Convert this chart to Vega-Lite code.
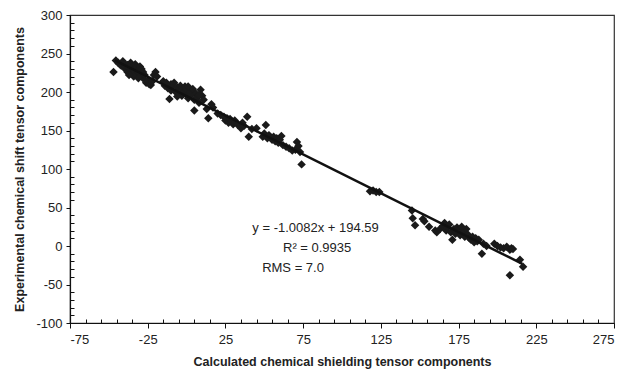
{
  "$schema": "https://vega.github.io/schema/vega-lite/v6.json",
  "autosize": "none",
  "padding": {"left": 70, "top": 15, "right": 10, "bottom": 49},
  "width": 544,
  "height": 308,
  "background": "white",
  "config": {
    "view": {"stroke": "#333", "strokeWidth": 1.2},
    "axis": {
      "labelFont": "Liberation Sans",
      "labelFontSize": 13,
      "labelColor": "#222",
      "titleFont": "Liberation Sans",
      "titleFontSize": 12.5,
      "titleFontWeight": "bold",
      "titleColor": "#222",
      "domainColor": "#111",
      "domainWidth": 1.2,
      "tickColor": "#111",
      "grid": false
    }
  },
  "datasets": {
    "pts": [
      {"calc": -47, "exp": 226}, {"calc": -45.5, "exp": 241}, {"calc": -44, "exp": 238}, {"calc": -43, "exp": 236},
      {"calc": -42, "exp": 234}, {"calc": -41, "exp": 240}, {"calc": -40, "exp": 237}, {"calc": -40, "exp": 232},
      {"calc": -39, "exp": 229}, {"calc": -38, "exp": 235}, {"calc": -38, "exp": 226}, {"calc": -37, "exp": 231},
      {"calc": -36, "exp": 238}, {"calc": -36, "exp": 228}, {"calc": -35, "exp": 233}, {"calc": -35, "exp": 224},
      {"calc": -34, "exp": 230}, {"calc": -33, "exp": 236}, {"calc": -33, "exp": 226}, {"calc": -32, "exp": 232},
      {"calc": -32, "exp": 222}, {"calc": -31, "exp": 228}, {"calc": -30, "exp": 233}, {"calc": -30, "exp": 224},
      {"calc": -29, "exp": 230}, {"calc": -28, "exp": 226}, {"calc": -28, "exp": 218}, {"calc": -27, "exp": 222},
      {"calc": -26, "exp": 212}, {"calc": -25, "exp": 215}, {"calc": -24, "exp": 210}, {"calc": -23, "exp": 209},
      {"calc": -22, "exp": 214}, {"calc": -21, "exp": 222}, {"calc": -20, "exp": 226}, {"calc": -19, "exp": 220},
      {"calc": -34, "exp": 220}, {"calc": -31, "exp": 218}, {"calc": -37, "exp": 222},
      {"calc": -15, "exp": 214}, {"calc": -14, "exp": 208}, {"calc": -13, "exp": 212}, {"calc": -12, "exp": 205},
      {"calc": -11, "exp": 191}, {"calc": -10, "exp": 210}, {"calc": -10, "exp": 202}, {"calc": -9, "exp": 207},
      {"calc": -8, "exp": 212}, {"calc": -7, "exp": 200}, {"calc": -6, "exp": 206}, {"calc": -5, "exp": 198},
      {"calc": -4, "exp": 208}, {"calc": -3, "exp": 203}, {"calc": -3, "exp": 195}, {"calc": -2, "exp": 200},
      {"calc": -1, "exp": 207}, {"calc": 0, "exp": 197}, {"calc": 0, "exp": 203}, {"calc": 1, "exp": 192},
      {"calc": 2, "exp": 200}, {"calc": 3, "exp": 196}, {"calc": 4, "exp": 204}, {"calc": 5, "exp": 176},
      {"calc": 5, "exp": 190}, {"calc": 6, "exp": 198}, {"calc": 7, "exp": 193}, {"calc": 8, "exp": 186},
      {"calc": 9, "exp": 203}, {"calc": 10, "exp": 195}, {"calc": 11, "exp": 190}, {"calc": 13, "exp": 178},
      {"calc": 14, "exp": 166}, {"calc": 16, "exp": 184}, {"calc": 17, "exp": 180},
      {"calc": -6, "exp": 194}, {"calc": 1, "exp": 207}, {"calc": 8, "exp": 196},
      {"calc": 20, "exp": 172}, {"calc": 22, "exp": 170}, {"calc": 24, "exp": 168}, {"calc": 25, "exp": 163},
      {"calc": 26, "exp": 166}, {"calc": 27, "exp": 160}, {"calc": 28, "exp": 165}, {"calc": 29, "exp": 162},
      {"calc": 30, "exp": 158}, {"calc": 31, "exp": 163}, {"calc": 33, "exp": 157}, {"calc": 35, "exp": 153},
      {"calc": 36, "exp": 160}, {"calc": 37, "exp": 156}, {"calc": 39, "exp": 168}, {"calc": 40, "exp": 142},
      {"calc": 42, "exp": 152}, {"calc": 45, "exp": 153},
      {"calc": 49, "exp": 142}, {"calc": 50, "exp": 146}, {"calc": 51, "exp": 157}, {"calc": 52, "exp": 140},
      {"calc": 53, "exp": 144}, {"calc": 55, "exp": 138}, {"calc": 56, "exp": 142}, {"calc": 57, "exp": 136},
      {"calc": 58, "exp": 140}, {"calc": 59, "exp": 134}, {"calc": 60, "exp": 138}, {"calc": 61, "exp": 143},
      {"calc": 62, "exp": 131}, {"calc": 64, "exp": 129}, {"calc": 66, "exp": 127}, {"calc": 68, "exp": 124},
      {"calc": 70, "exp": 125}, {"calc": 71, "exp": 135}, {"calc": 72, "exp": 130}, {"calc": 73, "exp": 122},
      {"calc": 74, "exp": 106},
      {"calc": 118, "exp": 71}, {"calc": 120, "exp": 72}, {"calc": 122, "exp": 70}, {"calc": 124, "exp": 70},
      {"calc": 145, "exp": 46}, {"calc": 145.5, "exp": 36}, {"calc": 147, "exp": 27}, {"calc": 152, "exp": 35},
      {"calc": 153, "exp": 32}, {"calc": 156, "exp": 25}, {"calc": 160, "exp": 20}, {"calc": 161, "exp": 18},
      {"calc": 163, "exp": 22}, {"calc": 165, "exp": 26}, {"calc": 166, "exp": 30}, {"calc": 167, "exp": 20},
      {"calc": 168, "exp": 24}, {"calc": 169, "exp": 28}, {"calc": 170, "exp": 18}, {"calc": 171, "exp": 8},
      {"calc": 172, "exp": 22}, {"calc": 173, "exp": 16}, {"calc": 174, "exp": 24}, {"calc": 175, "exp": 20},
      {"calc": 176, "exp": 14}, {"calc": 177, "exp": 25}, {"calc": 178, "exp": 18}, {"calc": 179, "exp": 12},
      {"calc": 180, "exp": 22}, {"calc": 181, "exp": 15}, {"calc": 182, "exp": 10}, {"calc": 183, "exp": 8},
      {"calc": 184, "exp": 12}, {"calc": 185, "exp": 5}, {"calc": 186, "exp": 10}, {"calc": 187, "exp": 6},
      {"calc": 188, "exp": 8}, {"calc": 190, "exp": -10}, {"calc": 191, "exp": 3}, {"calc": 193, "exp": 0},
      {"calc": 198, "exp": 3}, {"calc": 200, "exp": 0}, {"calc": 202, "exp": -2}, {"calc": 204, "exp": -3},
      {"calc": 206, "exp": -1}, {"calc": 208, "exp": -5}, {"calc": 209, "exp": -3}, {"calc": 210, "exp": -4},
      {"calc": 208, "exp": -38}, {"calc": 214.5, "exp": -18}, {"calc": 216.5, "exp": -27}
    ],
    "fit": [
      {"calc": -46, "exp": 240.97},
      {"calc": 216, "exp": -23.18}
    ],
    "notes": [
      {"calc": 83, "exp": 23.5, "txt": "y = -1.0082x + 194.59"},
      {"calc": 84, "exp": -2.5, "txt": "R² = 0.9935"},
      {"calc": 68.5, "exp": -28, "txt": "RMS = 7.0"}
    ]
  },
  "resolve": {"axis": {"x": "independent", "y": "independent"}},
  "layer": [
    {
      "data": {"name": "pts"},
      "mark": {"type": "point", "opacity": 0},
      "encoding": {
        "x": {"field": "calc", "type": "quantitative",
              "scale": {"domain": [-75, 275], "nice": false, "zero": false},
              "axis": {"orient": "bottom", "values": [-65,-55,-45,-35,-15,-5,5,15,35,45,55,65,85,95,105,115,135,145,155,165,185,195,205,215,235,245,255,265],
                       "labels": false, "domain": false, "tickSize": -4, "title": null}},
        "y": {"field": "exp", "type": "quantitative",
              "scale": {"domain": [-100, 300], "nice": false, "zero": false},
              "axis": {"orient": "left", "values": [-90,-80,-70,-60,-40,-30,-20,-10,10,20,30,40,60,70,80,90,110,120,130,140,160,170,180,190,210,220,230,240,260,270,280,290],
                       "labels": false, "domain": false, "tickSize": -4, "title": null}}
      }
    },
    {
      "data": {"name": "pts"},
      "mark": {"type": "point", "shape": "diamond", "filled": true, "color": "#1a1a1a", "size": 72, "opacity": 1},
      "encoding": {
        "x": {"field": "calc", "type": "quantitative",
              "axis": {"orient": "bottom", "values": [-75, -25, 25, 75, 125, 175, 225, 275], "tickSize": 5, "labelPadding": 5,
                       "labelExpr": "datum.value < 0 ? '-' + abs(datum.value) : '' + datum.value",
                       "title": "Calculated chemical shielding tensor components", "titlePadding": 9}},
        "y": {"field": "exp", "type": "quantitative",
              "axis": {"orient": "left", "values": [-100, -50, 0, 50, 100, 150, 200, 250, 300], "tickSize": 4, "labelPadding": 4,
                       "labelExpr": "datum.value < 0 ? '-' + abs(datum.value) : '' + datum.value",
                       "title": "Experimental chemical shift tensor components", "titlePadding": 9}}
      }
    },
    {
      "data": {"name": "fit"},
      "mark": {"type": "line", "color": "#111", "strokeWidth": 2.5},
      "encoding": {
        "x": {"field": "calc", "type": "quantitative", "axis": null},
        "y": {"field": "exp", "type": "quantitative", "axis": null}
      }
    },
    {
      "data": {"name": "notes"},
      "mark": {"type": "text", "font": "Liberation Sans", "fontSize": 13, "color": "#222", "align": "center", "baseline": "middle"},
      "encoding": {
        "x": {"field": "calc", "type": "quantitative", "axis": null},
        "y": {"field": "exp", "type": "quantitative", "axis": null},
        "text": {"field": "txt"}
      }
    }
  ]
}
